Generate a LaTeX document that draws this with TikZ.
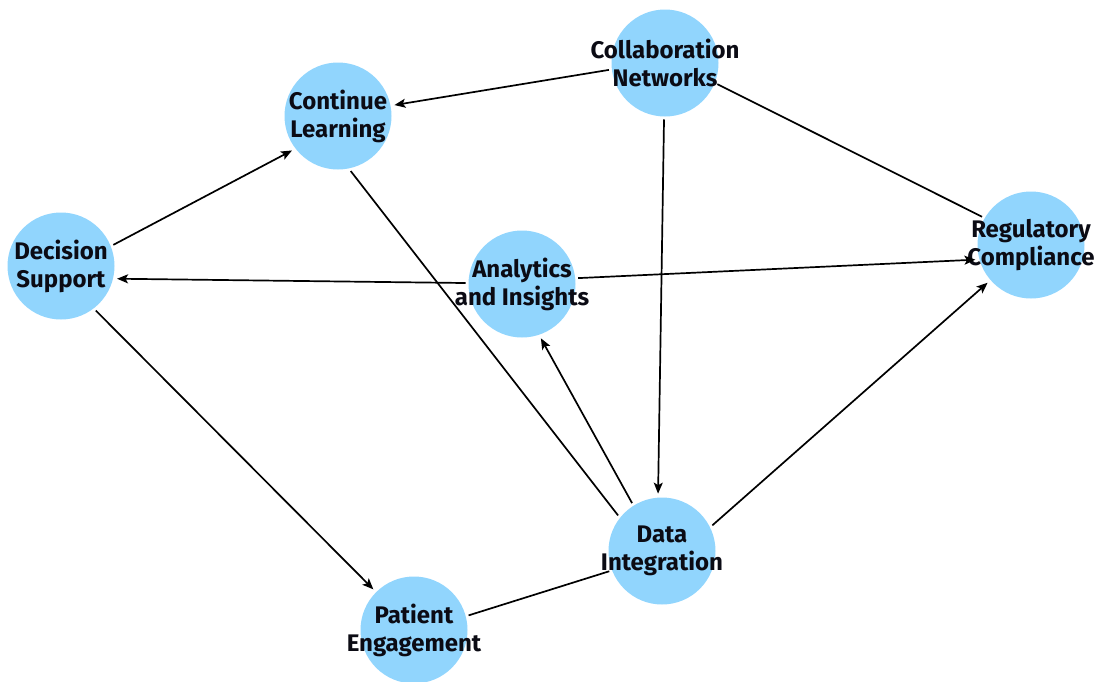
\documentclass[tikz,border=0pt]{standalone}
\usepackage{fontspec}
\setmainfont{Fira Sans}
\usetikzlibrary{arrows.meta}
\definecolor{nodeblue}{HTML}{91D5FD}
\definecolor{ink}{HTML}{0B0B14}
\tikzset{
  topic/.style={circle, fill=nodeblue, minimum size=107pt, inner sep=0pt, outer sep=3pt},
  lbl/.style={font=\fontsize{24}{28}\selectfont\bfseries, align=center, text=ink},
  link/.style={line width=1.7pt, draw=black},
  arr/.style={link, -{Stealth[length=11pt,width=9pt,inset=2.5pt]}, shorten >=1pt}
}
\begin{document}
\begin{tikzpicture}[x=1pt,y=-1pt]
\useasboundingbox (0,0) rectangle (1104,681);
\node[topic, label={[lbl]center:Collaboration\\Networks}] (cn) at (665,63) {};
\node[topic, label={[lbl]center:Continue\\Learning}] (cl) at (338,116) {};
\node[topic, label={[lbl]center:Decision\\Support}] (ds) at (61,266) {};
\node[topic, label={[lbl]center:Analytics\\and Insights}] (ai) at (522,284) {};
\node[topic, label={[lbl]center:Regulatory\\Compliance}] (rc) at (1031,245) {};
\node[topic, label={[lbl]center:Data\\Integration}] (di) at (662,551) {};
\node[topic, label={[lbl]center:Patient\\Engagement}] (pe) at (414,630) {};
\draw[arr] (cn.187) -- (cl.11);
\draw[link] (cn.-22) -- (rc.150);
\draw[arr] (cn.-91) -- (di.94);
\draw[arr] (ds.22) -- (cl.-143);
\draw[arr] (ai.179) -- (ds.-13);
\draw[arr] (ai.6) -- (rc.-165);
\draw[link] (cl.-77) -- (di.141);
\draw[arr] (di.122) -- (ai.-71);
\draw[arr] (di.27) -- (rc.-139);
\draw[arr] (ds.-52) -- (pe.135);
\draw[link] (pe.15) -- (di.-159);
\end{tikzpicture}
\end{document}
